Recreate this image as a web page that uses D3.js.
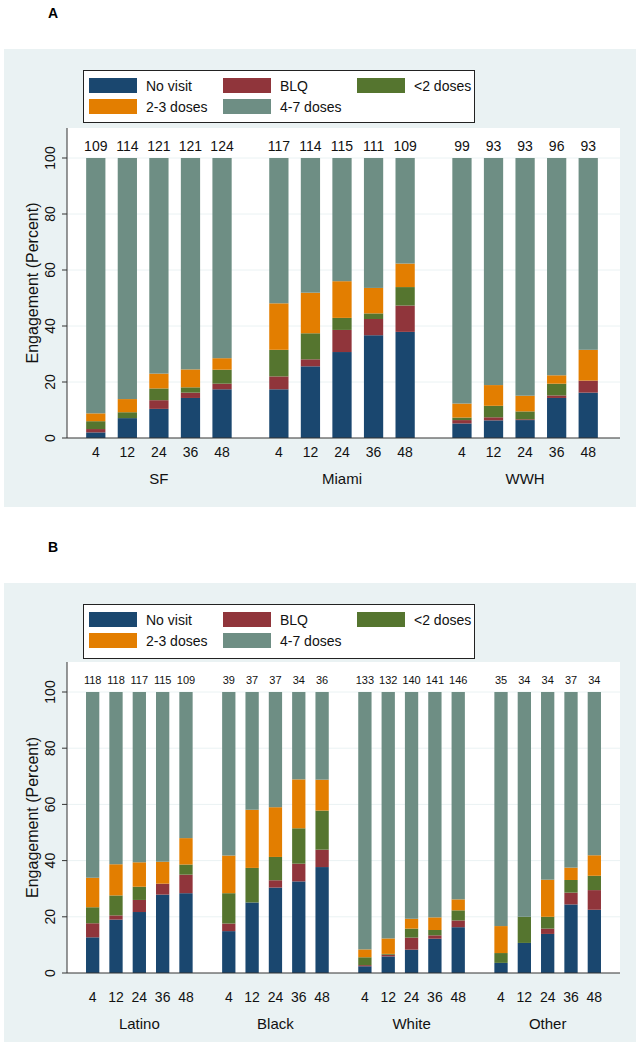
<!DOCTYPE html>
<html><head><meta charset="utf-8">
<script src="https://cdn.jsdelivr.net/npm/d3@7"></script>
<style>body{margin:0;background:#fff}svg{display:block;font-family:"Liberation Sans",Arial,sans-serif}</style>
</head><body><svg id="c" width="642" height="1050"></svg>
<script>
const timepoints = ["4","12","24","36","48"];
const seriesNames = ["No visit","BLQ","<2 doses","2-3 doses","4-7 doses"];
const seriesColors = ["#1a476f","#90353b","#55752f","#e37e00","#6e8e84"];
const yTicks = [0,20,40,60,80,100];

// Panel A: by site
const sitesA = ["SF","Miami","WWH"];
const countsA = [109,114,121,121,124, 117,114,115,111,109, 99,93,93,96,93];
const noVisitA = [2.0,7.1,10.4,14.3,17.4, 17.4,25.6,30.7,36.7,37.9, 5.2,6.3,6.4,14.3,16.2];
const blqA     = [1.2,0.0,3.1,1.9,2.0,   4.6,2.5,7.9,5.8,9.4,      1.2,1.1,0.3,0.9,4.3];
const lt2A     = [2.8,2.1,4.2,1.9,5.0,   9.5,9.3,4.3,2.0,6.6,      0.9,4.1,2.8,4.2,0.0];
const d23A     = [2.8,4.7,5.3,6.4,4.1,   16.6,14.5,13.1,9.1,8.4,   5.0,7.4,5.6,3.0,11.0];
const d47A     = [91.2,86.1,77.0,75.5,71.5, 51.9,48.1,44.0,46.4,37.7, 87.7,81.1,84.9,77.6,68.5];

// Panel B: by race/ethnicity
const groupsB = ["Latino","Black","White","Other"];
const countsB = [118,118,117,115,109, 39,37,37,34,36, 133,132,140,141,146, 35,34,34,37,34];
const noVisitB = [12.7,19.0,21.7,27.9,28.4, 14.9,25.1,30.4,32.6,37.7, 2.4,5.9,8.3,12.2,16.3, 3.6,10.7,13.9,24.4,22.5];
const blqB     = [5.0,1.5,4.3,3.9,6.6,      2.7,0.0,2.6,6.3,6.2,      0.4,0.6,4.3,1.2,2.4,   0.0,0.0,1.9,4.2,7.0];
const lt2B     = [5.7,7.1,4.7,0.0,3.6,      10.8,12.3,8.3,12.6,13.9,  2.8,0.3,3.2,1.9,3.6,   3.5,9.3,4.2,4.5,5.1];
const d23B     = [10.5,11.1,8.7,7.8,9.4,    13.4,20.7,17.7,17.4,11.0, 2.8,5.5,3.5,4.5,3.9,   9.6,0.0,13.2,4.4,7.3];
const d47B     = [66.1,61.3,60.6,60.4,52.0, 58.2,41.9,41.0,31.1,31.2, 91.6,87.7,80.7,80.2,73.8, 83.3,80.0,66.8,62.5,58.1];

const svg = d3.select("#c");
const BG = "#eaf2f3";

function buildRows(groups, counts, series){
  const rows = [];
  groups.forEach((g,gi)=>timepoints.forEach((t,ti)=>{
    const k = gi*timepoints.length+ti;
    const r = {group:g, time:t, n:counts[k]};
    seriesNames.forEach((s,si)=>r[s]=series[si][k]);
    rows.push(r);
  }));
  return rows;
}

function panel(o){
  const g = svg.append("g");
  g.append("text").attr("x",53).attr("y",o.labelY).attr("text-anchor","middle")
    .attr("dominant-baseline","central").attr("font-weight","bold").attr("font-size",14).text(o.label);
  g.append("rect").attr("x",4).attr("y",o.bgTop).attr("width",632).attr("height",o.bgBottom-o.bgTop).attr("fill",BG);
  // legend
  g.append("rect").attr("x",83.5).attr("y",o.legTop+0.5).attr("width",391).attr("height",o.legH)
    .attr("fill","#fff").attr("stroke","#222").attr("stroke-width",1);
  seriesNames.forEach((s,i)=>{
    const col = i%3, row = Math.floor(i/3);
    const lx = 89 + col*134, ly = o.legTop + 8 + row*21;
    g.append("rect").attr("x",lx).attr("y",ly).attr("width",48).attr("height",15).attr("fill",seriesColors[i]);
    g.append("text").attr("x",lx+57).attr("y",ly+7.5).attr("dominant-baseline","central")
      .attr("font-size",14).attr("fill","#111").text(s);
  });
  // plot area
  const L = 67, R = 620;
  g.append("rect").attr("x",L).attr("y",o.plotTop).attr("width",R-L).attr("height",o.y0-o.plotTop).attr("fill","#fff");
  const y = d3.scaleLinear().domain([0,100]).range([o.y0,o.y100]);
  g.selectAll(".grid").data(yTicks.slice(1)).join("line")
    .attr("x1",L).attr("x2",R).attr("y1",d=>y(d)).attr("y2",d=>y(d)).attr("stroke",BG).attr("stroke-width",1);
  const x0 = d3.scaleBand().domain(o.groups).range(o.groupRange).paddingInner(o.gPad).paddingOuter(0);
  const x1 = d3.scaleBand().domain(timepoints).range([0,x0.bandwidth()]).paddingInner(o.bPad).paddingOuter(o.bPad/2);
  const rows = buildRows(o.groups, o.counts, o.series);
  const stack = d3.stack().keys(seriesNames)(rows);
  stack.forEach((layer,si)=>{
    g.selectAll(null).data(layer).join("rect")
      .attr("x",d=>x0(d.data.group)+x1(d.data.time))
      .attr("width",x1.bandwidth())
      .attr("y",d=>y(d[1])).attr("height",d=>Math.max(0,y(d[0])-y(d[1])))
      .attr("fill",seriesColors[si]);
  });
  // counts
  g.selectAll(null).data(rows).join("text")
    .attr("x",d=>x0(d.group)+x1(d.time)+x1.bandwidth()/2).attr("y",o.countY)
    .attr("text-anchor","middle").attr("dominant-baseline","central")
    .attr("font-size",o.countSize).attr("fill","#111").text(d=>d.n);
  // axes
  g.append("line").attr("x1",L).attr("x2",R).attr("y1",o.y0).attr("y2",o.y0).attr("stroke","#333").attr("stroke-width",1);
  g.append("line").attr("x1",L).attr("x2",L).attr("y1",o.plotTop).attr("y2",o.y0).attr("stroke","#333").attr("stroke-width",1);
  yTicks.forEach(t=>{
    g.append("line").attr("x1",L-5).attr("x2",L).attr("y1",y(t)).attr("y2",y(t)).attr("stroke","#333");
    g.append("text").attr("transform",`translate(55,${y(t)}) rotate(-90)`).attr("text-anchor","middle")
      .attr("font-size",14).attr("fill","#111").text(t);
  });
  g.append("text").attr("transform",`translate(32,${(o.plotTop+o.y0)/2}) rotate(-90)`).attr("text-anchor","middle")
    .attr("dominant-baseline","central").attr("font-size",16).attr("fill","#111").text("Engagement (Percent)");
  g.selectAll(null).data(rows).join("text")
    .attr("x",d=>x0(d.group)+x1(d.time)+x1.bandwidth()/2).attr("y",o.tickY)
    .attr("text-anchor","middle").attr("dominant-baseline","central")
    .attr("font-size",14).attr("fill","#111").text(d=>d.time);
  g.selectAll(null).data(o.groups).join("text")
    .attr("x",d=>x0(d)+x0.bandwidth()/2).attr("y",o.groupY)
    .attr("text-anchor","middle").attr("dominant-baseline","central")
    .attr("font-size",15).attr("fill","#111").text(d=>d);
}

panel({label:"A", labelY:13, bgTop:49, bgBottom:507, legTop:70, legH:52,
  plotTop:128, y0:438, y100:158, groups:sitesA, counts:countsA,
  series:[noVisitA,blqA,lt2A,d23A,d47A], groupRange:[80,604], gPad:0.138, bPad:0.39,
  countY:146, countSize:14, tickY:452, groupY:478});

panel({label:"B", labelY:547, bgTop:583, bgBottom:1042, legTop:604, legH:54,
  plotTop:662, y0:973, y100:692, groups:groupsB, counts:countsB,
  series:[noVisitB,blqB,lt2B,d23B,d47B], groupRange:[81,606], gPad:0.143, bPad:0.43,
  countY:680, countSize:11, tickY:997, groupY:1023});
</script></body></html>
